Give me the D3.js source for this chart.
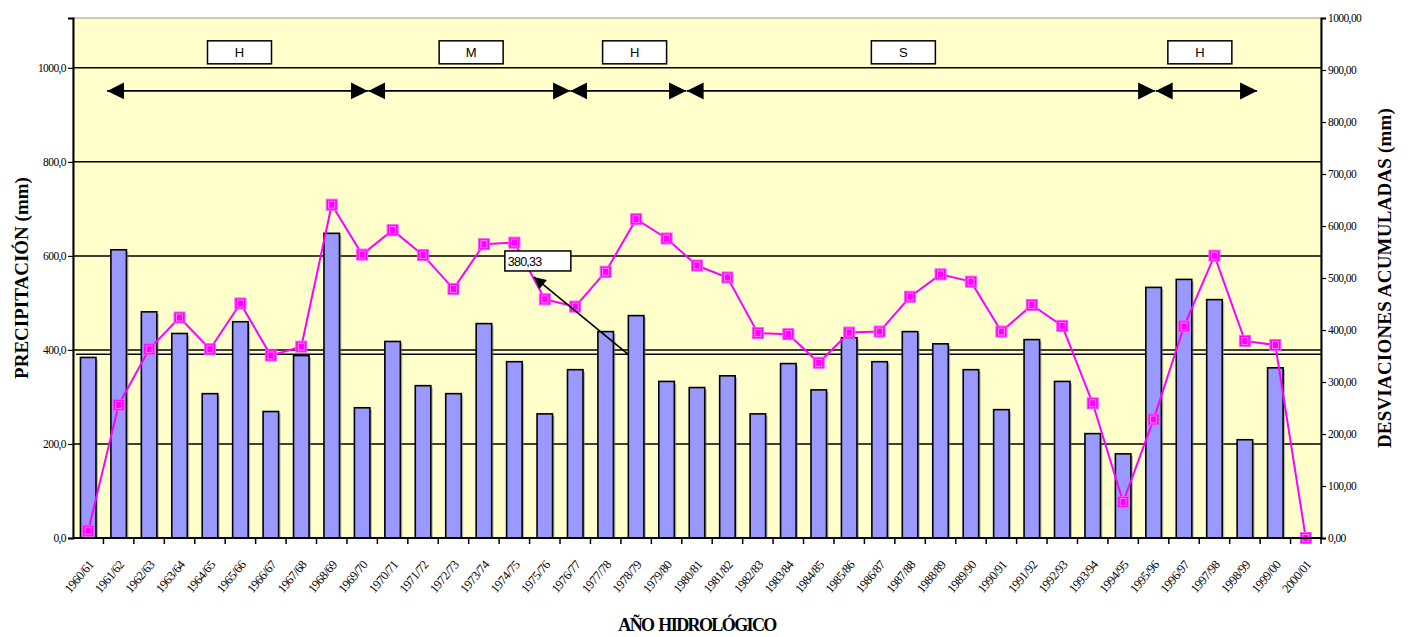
<!DOCTYPE html>
<html lang="es">
<head>
<meta charset="UTF-8" />
<script src="https://d3js.org/d3.v7.min.js"></script>
<style>
  body { margin: 0; background: #fff; }
  text { font-family: "Liberation Serif", "Times New Roman", serif; }
</style>
</head>
<body>
<div id="chart"></div>
<script>
// hydrological years
var years = ["1960/61","1961/62","1962/63","1963/64","1964/65","1965/66","1966/67","1967/68","1968/69","1969/70",
  "1970/71","1971/72","1972/73","1973/74","1974/75","1975/76","1976/77","1977/78","1978/79","1979/80",
  "1980/81","1981/82","1982/83","1983/84","1984/85","1985/86","1986/87","1987/88","1988/89","1989/90",
  "1990/91","1991/92","1992/93","1993/94","1994/95","1995/96","1996/97","1997/98","1998/99","1999/00","2000/01"];

// annual precipitation (mm), left axis; last year has no bar
var precip = [384, 613, 481, 435, 307, 460, 269, 388, 648, 277,
  418, 324, 307, 456, 375, 264, 358, 439, 473, 333,
  320, 345, 264, 371, 315, 426, 375, 439, 413, 358,
  273, 422, 333, 222, 179, 533, 550, 507, 209, 362, null];

// accumulated deviations (mm), right axis
var accum = [14, 256, 363, 424, 363, 451, 351, 368, 641, 545,
  592, 544, 479, 565, 568, 459, 445, 512, 613, 576,
  524, 501, 394, 392, 337, 395, 397, 464, 507, 493,
  397, 448, 408, 259, 69, 228, 407, 543, 379, 371, 0];

var meanPrecip = 391;
var leftTicks = [0, 200, 400, 600, 800, 1000];
var rightTicks = [0, 100, 200, 300, 400, 500, 600, 700, 800, 900, 1000];

// periods on top (edges in category index units)
var periodLabels = ["H", "M", "H", "S", "H"];
var periodCenters = [4.97, 12.58, 17.95, 26.78, 36.52];
var periodEdges = [[0.62, 9.19], [9.2, 15.83], [15.84, 19.64], [19.66, 35.05], [35.07, 38.4]];

// callout
var calloutText = "380,33";
var calloutTail = [17.73, 391];   // index, left-axis value
var calloutHead = [14.64, 502];   // index, right-axis value

var W = 1410, H = 637;
var margin = {top: 18, right: 89, bottom: 99, left: 73};

var svg = d3.select("#chart").append("svg")
  .attr("width", W).attr("height", H);

var x = d3.scaleBand().domain(years).range([margin.left, W - margin.right]);
var xi = d3.scaleLinear().domain([0, years.length]).range([margin.left, W - margin.right]);
var xc = function(i) { return xi(i + 0.5); };
var yL = d3.scaleLinear().domain([0, 1106]).range([H - margin.bottom, margin.top]);
var yR = d3.scaleLinear().domain([0, 1000]).range([H - margin.bottom, margin.top]);

var x0 = margin.left, x1 = W - margin.right, y0 = H - margin.bottom, y1 = margin.top;

// plot background
svg.append("rect")
  .attr("x", x0).attr("y", y1).attr("width", x1 - x0).attr("height", y0 - y1)
  .attr("fill", "#FFFFCC").attr("stroke", "#999").attr("stroke-width", 1);

// gridlines
svg.selectAll(".grid").data(leftTicks.slice(1)).enter().append("line")
  .attr("x1", x0).attr("x2", x1)
  .attr("y1", function(d) { return yL(d); }).attr("y2", function(d) { return yL(d); })
  .attr("stroke", "#000").attr("stroke-width", 1.5);

// mean line
svg.append("line")
  .attr("x1", xi(0.1)).attr("x2", x1)
  .attr("y1", yL(meanPrecip)).attr("y2", yL(meanPrecip))
  .attr("stroke", "#000").attr("stroke-width", 1.5);

// bars
var barW = x.bandwidth() * 0.51;
var barData = precip.map(function(v, i) { return {i: i, v: v}; }).filter(function(d) { return d.v != null; });

svg.selectAll(".shadow").data(barData).enter().append("rect")
  .attr("x", function(d) { return xc(d.i) - barW / 2 + 2; })
  .attr("y", function(d) { return yL(d.v) + 2; })
  .attr("width", barW).attr("height", function(d) { return y0 - yL(d.v) - 2; })
  .attr("fill", "#777").attr("opacity", 0.5);

svg.selectAll(".bar").data(barData).enter().append("rect")
  .attr("x", function(d) { return xc(d.i) - barW / 2; })
  .attr("y", function(d) { return yL(d.v); })
  .attr("width", barW).attr("height", function(d) { return y0 - yL(d.v); })
  .attr("fill", "#9999FF").attr("stroke", "#000").attr("stroke-width", 1.6);

// accumulated deviations line
var line = d3.line()
  .x(function(d, i) { return xc(i); })
  .y(function(d) { return yR(d); });

svg.append("path").datum(accum)
  .attr("d", line).attr("fill", "none")
  .attr("stroke", "#FF00FF").attr("stroke-width", 2);

svg.selectAll(".mk").data(accum).enter().append("rect")
  .attr("x", function(d, i) { return xc(i) - 5.5; })
  .attr("y", function(d) { return yR(d) - 5.5; })
  .attr("width", 11).attr("height", 11)
  .attr("fill", "#FF00FF").attr("stroke", "#FF55FF").attr("stroke-width", 1);
svg.selectAll(".mki").data(accum).enter().append("rect")
  .attr("x", function(d, i) { return xc(i) - 3; })
  .attr("y", function(d) { return yR(d) - 3.5; })
  .attr("width", 6).attr("height", 7)
  .attr("fill", "none").attr("stroke", "#FF99FF").attr("stroke-width", 0.8);

// period arrows
var defs = svg.append("defs");
defs.append("marker").attr("id", "ah").attr("viewBox", "0 0 10 10")
  .attr("refX", 10).attr("refY", 5).attr("markerWidth", 17).attr("markerHeight", 20)
  .attr("markerUnits", "userSpaceOnUse").attr("orient", "auto-start-reverse")
  .append("path").attr("d", "M0,0 L10,5 L0,10 Z").attr("fill", "#000");

var arrowY = yL(951);
svg.selectAll(".per").data(periodEdges).enter().append("line")
  .attr("x1", function(d) { return xi(d[0] + 0.5); })
  .attr("x2", function(d) { return xi(d[1] + 0.5); })
  .attr("y1", arrowY).attr("y2", arrowY)
  .attr("stroke", "#000").attr("stroke-width", 1.6)
  .attr("marker-start", "url(#ah)").attr("marker-end", "url(#ah)");

var boxY = yL(1033);
var gBox = svg.selectAll(".pbox").data(periodLabels).enter().append("g")
  .attr("transform", function(d, i) { return "translate(" + xi(periodCenters[i] + 0.5) + "," + boxY + ")"; });
gBox.append("rect")
  .attr("x", -32).attr("y", -11.5).attr("width", 64).attr("height", 23)
  .attr("fill", "#fff").attr("stroke", "#000").attr("stroke-width", 1.5);
gBox.append("text").text(function(d) { return d; })
  .attr("text-anchor", "middle").attr("y", 5)
  .style("font-family", "'Liberation Sans', Arial, sans-serif").style("font-size", "13px");

// callout
svg.append("line")
  .attr("x1", xi(calloutTail[0] + 0.5)).attr("y1", yL(calloutTail[1]))
  .attr("x2", xi(calloutHead[0] + 0.5)).attr("y2", yR(calloutHead[1]))
  .attr("stroke", "#000").attr("stroke-width", 1.6)
  .attr("marker-end", "url(#ahs)");
defs.append("marker").attr("id", "ahs").attr("viewBox", "0 0 10 10")
  .attr("refX", 10).attr("refY", 5).attr("markerWidth", 14).attr("markerHeight", 12)
  .attr("markerUnits", "userSpaceOnUse").attr("orient", "auto")
  .append("path").attr("d", "M0,0 L10,5 L0,10 Z").attr("fill", "#000");
var cb = svg.append("g")
  .attr("transform", "translate(" + xi(calloutHead[0] + 0.5) + "," + yR(calloutHead[1]) + ")");
cb.append("rect").attr("x", -29).attr("y", -26).attr("width", 66).attr("height", 20)
  .attr("fill", "#fff").attr("stroke", "#000").attr("stroke-width", 1.5);
cb.append("text").text(calloutText).attr("x", -26).attr("y", -11)
  .style("font-family", "'Liberation Sans', Arial, sans-serif").style("font-size", "12.5px")
  .style("letter-spacing", "-0.8px");

// axes
var axL = d3.axisLeft(yL).tickValues(leftTicks).tickSize(5)
  .tickFormat(function(d) { return d3.format(".1f")(d).replace(".", ","); });
var gL = svg.append("g").attr("transform", "translate(" + x0 + ",0)").call(axL);

var axR = d3.axisRight(yR).tickValues(rightTicks).tickSize(5)
  .tickFormat(function(d) { return d3.format(".2f")(d).replace(".", ","); });
var gR = svg.append("g").attr("transform", "translate(" + x1 + ",0)").call(axR);

var gX = svg.append("g").attr("transform", "translate(0," + y0 + ")");
gX.append("line").attr("x1", x0).attr("x2", x1).attr("stroke", "#000").attr("stroke-width", 2);
gX.selectAll(".xt").data(d3.range(1, years.length + 1)).enter().append("line")
  .attr("x1", function(d) { return xi(d); }).attr("x2", function(d) { return xi(d); })
  .attr("y1", 0).attr("y2", 6).attr("stroke", "#000").attr("stroke-width", 1.5);
gX.selectAll(".xl").data(years).enter().append("text")
  .text(function(d) { return d; })
  .attr("text-anchor", "end")
  .attr("transform", function(d) { return "translate(" + (x(d) + x.bandwidth() / 2 + 6) + ",27) rotate(-50)"; })
  .style("font-size", "12.5px").style("letter-spacing", "-0.5px");

[gL, gR].forEach(function(g) {
  g.select(".domain").attr("stroke", "#000").attr("stroke-width", 2);
  g.selectAll(".tick line").attr("stroke", "#000").attr("stroke-width", 1.2);
  g.selectAll(".tick text").style("font-family", "'Liberation Serif', serif")
    .style("font-size", "11.5px").style("letter-spacing", "-0.6px").attr("fill", "#000");
});
gR.selectAll(".tick text").attr("x", 7);
gL.selectAll(".tick text").attr("x", -7);

// titles
svg.append("text").text("PRECIPITACIÓN (mm)")
  .attr("transform", "translate(28," + ((y0 + y1) / 2) + ") rotate(-90)")
  .attr("text-anchor", "middle").style("font-weight", "bold").style("font-size", "19px");
svg.append("text").text("DESVIACIONES ACUMULADAS (mm)")
  .attr("transform", "translate(1391," + ((y0 + y1) / 2) + ") rotate(-90)")
  .attr("text-anchor", "middle").style("font-weight", "bold").style("font-size", "19px")
  .style("letter-spacing", "0.2px");
svg.append("text").text("AÑO HIDROLÓGICO")
  .attr("x", (x0 + x1) / 2).attr("y", 631)
  .attr("text-anchor", "middle").style("font-weight", "bold").style("font-size", "18px")
  .style("letter-spacing", "-1.6px").style("word-spacing", "2px");
</script>
</body>
</html>
